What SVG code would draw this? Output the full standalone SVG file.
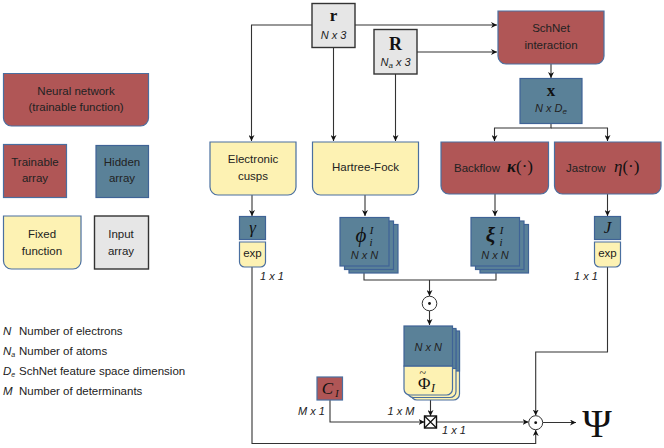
<svg xmlns="http://www.w3.org/2000/svg" width="664" height="448" viewBox="0 0 664 448">
<defs>
<marker id="ah" viewBox="0 0 10 10" refX="10" refY="5" markerWidth="6" markerHeight="6" orient="auto" markerUnits="userSpaceOnUse">
<path d="M0,0 L10,5 L0,10 L3,5 Z" fill="#111"/>
</marker>
<style>
.nn{fill:#b05656;stroke:#4a6fa0;stroke-width:1.2}
.tr{fill:#b05656;stroke:#4a6fa0;stroke-width:1.2}
.hid{fill:#5a8198;stroke:#3f6396;stroke-width:1.2}
.fx{fill:#fdf2b3;stroke:#4a6fa0;stroke-width:1.2}
.inp{fill:#e6e6e6;stroke:#333;stroke-width:1.4}
.t{font-family:"Liberation Sans","DejaVu Sans",sans-serif;font-size:11.5px;fill:#222;text-anchor:middle}
.ti{font-family:"Liberation Sans","DejaVu Sans",sans-serif;font-size:11px;font-style:italic;fill:#222;text-anchor:middle}
.tl{font-family:"Liberation Sans","DejaVu Sans",sans-serif;font-size:11.5px;fill:#222}
.m{font-family:"Liberation Serif","DejaVu Serif",serif;fill:#111;text-anchor:middle}
.st{text-anchor:start}
.en{text-anchor:end}
.c{fill:none;stroke:#333;stroke-width:1.1}
.ca{fill:none;stroke:#333;stroke-width:1.1;marker-end:url(#ah)}
</style>
</defs>

<g id="connectors">
<path class="ca" d="M312,25 H251.5 V141"/>
<path class="ca" d="M355,25 H497"/>
<path class="ca" d="M333.5,48 V141"/>
<path class="ca" d="M395.5,74 V141"/>
<path class="ca" d="M417,52 H497"/>
<path class="ca" d="M551,64 V78"/>
<path class="ca" d="M551,123 V128 H494.5 V141"/>
<path class="ca" d="M551,128 H607.5 V141"/>
<path class="ca" d="M252,195 V216"/>
<path class="ca" d="M365,195 V216"/>
<path class="ca" d="M495,194 V216"/>
<path class="ca" d="M607.5,194 V216"/>
<path class="c" d="M364,273 V280 H496 V273"/>
<path class="ca" d="M429.5,280 V296"/>
<path class="ca" d="M429.5,311 V325"/>
<path class="ca" d="M430.5,400 V416"/>
<path class="ca" d="M330,400 V422 H424.5"/>
<path class="ca" d="M436.5,422 H528.5"/>
<path class="ca" d="M607.5,267 V352 H535.7 V415.5"/>
<path class="ca" d="M252,267 V443.5 H535.7 V430"/>
<path class="ca" d="M543,422.5 H576"/>
</g>

<g id="legend">
<path class="nn" d="M3.5,73.5 H148.5 V118 A8,8 0 0 1 140.5,126 H11.5 A8,8 0 0 1 3.5,118 Z"/>
<text class="t" x="76" y="95">Neural network</text>
<text class="t" x="76" y="111">(trainable function)</text>
<rect class="tr" x="3.5" y="144.5" width="63" height="53"/>
<text class="t" x="35" y="166">Trainable</text>
<text class="t" x="35" y="182">array</text>
<rect class="hid" x="96" y="145.5" width="52.5" height="52"/>
<text class="t" x="122" y="166">Hidden</text>
<text class="t" x="122" y="182">array</text>
<path class="fx" d="M3.5,216 H81 V261 A8,8 0 0 1 73,269 H11.5 A8,8 0 0 1 3.5,261 Z"/>
<text class="t" x="42" y="238">Fixed</text>
<text class="t" x="42" y="255">function</text>
<rect class="inp" x="94.5" y="216" width="54" height="53"/>
<text class="t" x="121" y="238">Input</text>
<text class="t" x="121" y="255">array</text>
<text class="tl" x="3" y="334.5"><tspan font-style="italic">N</tspan></text>
<text class="tl" x="19" y="334.5">Number of electrons</text>
<text class="tl" x="3" y="354.5"><tspan font-style="italic">N</tspan><tspan font-style="italic" font-size="7" dy="2">a</tspan></text>
<text class="tl" x="19" y="354.5">Number of atoms</text>
<text class="tl" x="3" y="374.5"><tspan font-style="italic">D</tspan><tspan font-style="italic" font-size="7" dy="2">e</tspan></text>
<text class="tl" x="19" y="374.5">SchNet feature space dimension</text>
<text class="tl" x="3" y="394.5"><tspan font-style="italic">M</tspan></text>
<text class="tl" x="19" y="394.5">Number of determinants</text>
</g>

<g id="node-r">
<rect class="inp" x="312" y="3.5" width="43" height="44"/>
<text class="m" x="333.5" y="21" font-size="17" font-weight="bold">r</text>
<text class="ti" x="333.5" y="39">N x 3</text>
</g>

<g id="node-R">
<rect class="inp" x="374" y="29.5" width="43" height="44.5"/>
<text class="m" x="395.5" y="50" font-size="18" font-weight="bold">R</text>
<text class="ti" x="395.5" y="66">N<tspan font-size="8" dy="2">a</tspan><tspan dy="-2"> x 3</tspan></text>
</g>

<g id="node-schnet">
<path class="nn" d="M498,11 H604 V56 A8,8 0 0 1 596,64 H506 A8,8 0 0 1 498,56 Z"/>
<text class="t" x="551" y="32">SchNet</text>
<text class="t" x="551" y="49">interaction</text>
</g>

<g id="node-x">
<rect class="hid" x="520" y="78.5" width="62" height="45"/>
<text class="m" x="551" y="96" font-size="17" font-weight="bold">x</text>
<text class="ti" x="551" y="112">N x D<tspan font-size="8" dy="2">e</tspan></text>
</g>

<g id="node-cusps">
<path class="fx" d="M210,142 H296 V187 A8,8 0 0 1 288,195 H218 A8,8 0 0 1 210,187 Z"/>
<text class="t" x="253" y="163">Electronic</text>
<text class="t" x="253" y="180">cusps</text>
</g>

<g id="node-hf">
<path class="fx" d="M312.5,142 H418.5 V187 A8,8 0 0 1 410.5,195 H320.5 A8,8 0 0 1 312.5,187 Z"/>
<text class="t" x="365.5" y="171">Hartree-Fock</text>
</g>

<g id="node-backflow">
<path class="nn" d="M441,142 H548.5 V186 A8,8 0 0 1 540.5,194 H449 A8,8 0 0 1 441,186 Z"/>
<text class="t st" x="454" y="171.5">Backflow</text>
<text class="m st" x="507" y="172" font-size="17"><tspan font-weight="bold" font-style="italic">κ</tspan>(·)</text>
</g>

<g id="node-jastrow">
<path class="nn" d="M554.5,142 H661 V186 A8,8 0 0 1 653,194 H562.5 A8,8 0 0 1 554.5,186 Z"/>
<text class="t st" x="566" y="171.5">Jastrow</text>
<text class="m st" x="614" y="172" font-size="17"><tspan font-style="italic">η</tspan>(·)</text>
</g>

<g id="node-gamma">
<rect class="hid" x="239.5" y="216.5" width="26" height="23"/>
<text class="m" x="252.5" y="232.5" font-size="17" font-style="italic">γ</text>
<path class="fx" d="M239.5,242 H265.5 V262 A5,5 0 0 1 260.5,267 H244.5 A5,5 0 0 1 239.5,262 Z"/>
<text class="t" x="252.5" y="257" font-size="10.5">exp</text>
<text class="ti st" x="260" y="280">1 x 1</text>
</g>

<g id="node-phi">
<rect class="hid" x="349" y="224.5" width="49" height="48.5"/>
<rect class="hid" x="344.5" y="221" width="49" height="48.5"/>
<rect class="hid" x="340" y="217.5" width="49" height="48.5"/>
<text class="m" x="361" y="242" font-size="21" font-style="italic">ϕ</text>
<text class="m" x="371" y="246" font-size="11" font-style="italic">i</text>
<text class="m" x="371.5" y="234" font-size="11" font-style="italic">I</text>
<text class="ti" x="364.5" y="258.5">N x N</text>
</g>

<g id="node-xi">
<rect class="hid" x="480" y="224.5" width="48.5" height="48.5"/>
<rect class="hid" x="475.5" y="221" width="48.5" height="48.5"/>
<rect class="hid" x="471" y="217.5" width="48.5" height="48.5"/>
<text class="m" x="490.5" y="242" font-size="21" font-style="italic" font-weight="bold">ξ</text>
<text class="m" x="501" y="246" font-size="11" font-style="italic">i</text>
<text class="m" x="501.5" y="234" font-size="11" font-style="italic">I</text>
<text class="ti" x="495" y="258.5">N x N</text>
</g>

<g id="node-J">
<rect class="hid" x="594.5" y="216.5" width="26" height="23"/>
<text class="m" x="607.5" y="233" font-size="17" font-style="italic">J</text>
<path class="fx" d="M594.5,242 H620.5 V262 A5,5 0 0 1 615.5,267 H599.5 A5,5 0 0 1 594.5,262 Z"/>
<text class="t" x="607.5" y="257" font-size="10.5">exp</text>
<text class="ti st" x="574" y="280">1 x 1</text>
</g>

<g id="node-prod1">
<circle cx="429.5" cy="303.5" r="7.3" fill="#fff" stroke="#333" stroke-width="1"/>
<circle cx="429.5" cy="303.5" r="1.4" fill="#111"/>
</g>

<g id="node-Phi">
<path class="fx" d="M411,333 H459.5 V394 A6,6 0 0 1 453.5,400 H417 A6,6 0 0 1 411,394 Z"/>
<rect class="hid" x="411" y="331" width="48.5" height="40"/>
<path class="fx" d="M407.5,330 H456 V391.5 A6,6 0 0 1 450,397.5 H413.5 A6,6 0 0 1 407.5,391.5 Z"/>
<rect class="hid" x="407.5" y="328.5" width="48.5" height="40"/>
<path class="fx" d="M404,366 H452.5 V389 A6,6 0 0 1 446.5,395 H410 A6,6 0 0 1 404,389 Z"/>
<rect class="hid" x="404" y="326" width="48.5" height="40"/>
<text class="ti" x="428.3" y="350.5">N x N</text>
<text class="m st" x="418" y="388.5" font-size="17">Φ<tspan font-size="12" dx="-11" dy="-12">~</tspan><tspan font-size="12" font-style="italic" dx="5" dy="15">I</tspan></text>
</g>

<g id="node-CI">
<rect class="tr" x="317" y="377" width="25.5" height="23"/>
<text class="m" x="327.5" y="394" font-size="17" font-style="italic">C</text>
<text class="m" x="337" y="397" font-size="10" font-style="italic">I</text>
<text class="ti en" x="325" y="415">M x 1</text>
</g>

<g id="node-dot">
<rect x="424.5" y="416" width="12" height="12" fill="#fff" stroke="#111" stroke-width="1.4"/>
<path d="M424.5,416 L436.5,428 M436.5,416 L424.5,428" stroke="#111" stroke-width="1.2"/>
<text class="ti" x="401" y="415">1 x M</text>
<text class="ti" x="454" y="434">1 x 1</text>
</g>

<g id="node-prod2">
<circle cx="535.7" cy="422.7" r="7" fill="#fff" stroke="#333" stroke-width="1"/>
<circle cx="535.7" cy="422.7" r="1.4" fill="#111"/>
</g>

<g id="node-psi">
<text class="m" x="597" y="436.5" font-size="40">Ψ</text>
</g>
</svg>
